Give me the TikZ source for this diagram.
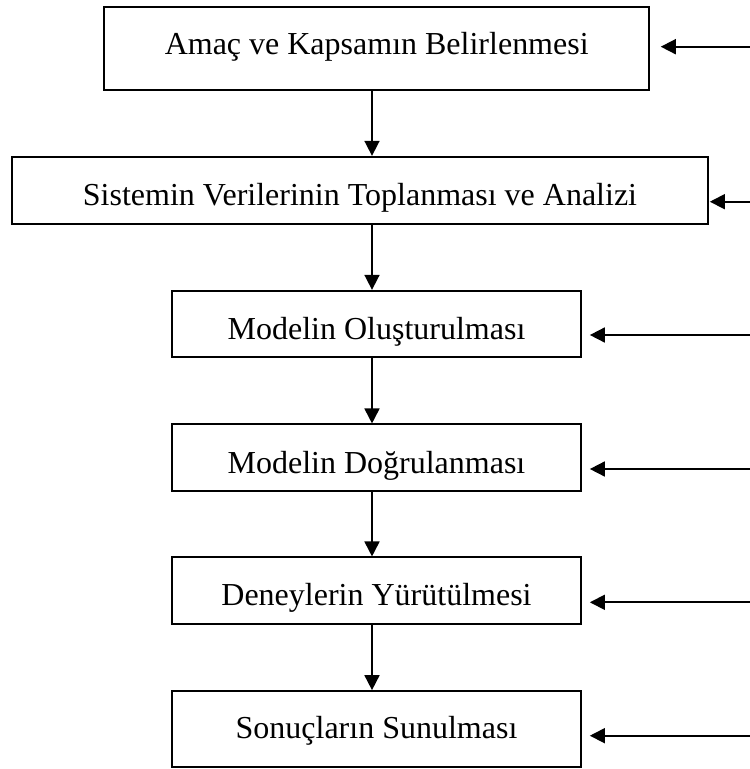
\documentclass[tikz,border=0pt]{standalone}
\usepackage{fontspec}
\setmainfont{Liberation Serif}
\usetikzlibrary{arrows.meta}
\begin{document}
\begin{tikzpicture}[x=1pt,y=-1pt,
  box/.style={draw,line width=1.7pt,rectangle,inner sep=0pt,anchor=base,
    font=\fontsize{32}{38}\selectfont},
  arr/.style={line width=1.7pt,-{Triangle[length=15pt,width=15pt]}}]
\useasboundingbox (0,0) rectangle (750,769);
\node[box,minimum width=545pt,text height=47.6pt,text depth=35.7pt] (b1) at (376.7,54.3) {Amaç ve Kapsamın Belirlenmesi};
\node[box,minimum width=696pt,text height=48.3pt,text depth=19.3pt] (b2) at (360,205) {Sistemin Verilerinin Toplanması ve Analizi};
\node[box,minimum width=408.4pt,text height=48.3pt,text depth=18.3pt] (b3) at (376.5,339) {Modelin Oluşturulması};
\node[box,minimum width=408.4pt,text height=48.7pt,text depth=18pt] (b4) at (376.5,473) {Modelin Doğrulanması};
\node[box,minimum width=408.4pt,text height=47.7pt,text depth=19pt] (b5) at (376.5,605) {Deneylerin Yürütülmesi};
\node[box,minimum width=408.4pt,text height=47pt,text depth=29.3pt] (b6) at (376.5,738) {Sonuçların Sunulması};
\coordinate (vx) at (372,0);
\coordinate (s1) at (750,46.7);
\coordinate (s2) at (750,201.7);
\coordinate (s3) at (750,335);
\coordinate (s4) at (750,469);
\coordinate (s5) at (750,602.3);
\coordinate (s6) at (750,735.7);
\draw[arr] (b1.south -| vx) -- (b2.north -| vx);
\draw[arr] (b2.south -| vx) -- (b3.north -| vx);
\draw[arr] (b3.south -| vx) -- (b4.north -| vx);
\draw[arr] (b4.south -| vx) -- (b5.north -| vx);
\draw[arr] (b5.south -| vx) -- (b6.north -| vx);
\draw[arr] (s1) -- ([xshift=10.7pt]b1.east |- s1);
\draw[arr] (s2) -- ([xshift=1pt]b2.east |- s2);
\draw[arr] (s3) -- ([xshift=8.3pt]b3.east |- s3);
\draw[arr] (s4) -- ([xshift=8.3pt]b4.east |- s4);
\draw[arr] (s5) -- ([xshift=8.3pt]b5.east |- s5);
\draw[arr] (s6) -- ([xshift=8.3pt]b6.east |- s6);
\end{tikzpicture}
\end{document}
